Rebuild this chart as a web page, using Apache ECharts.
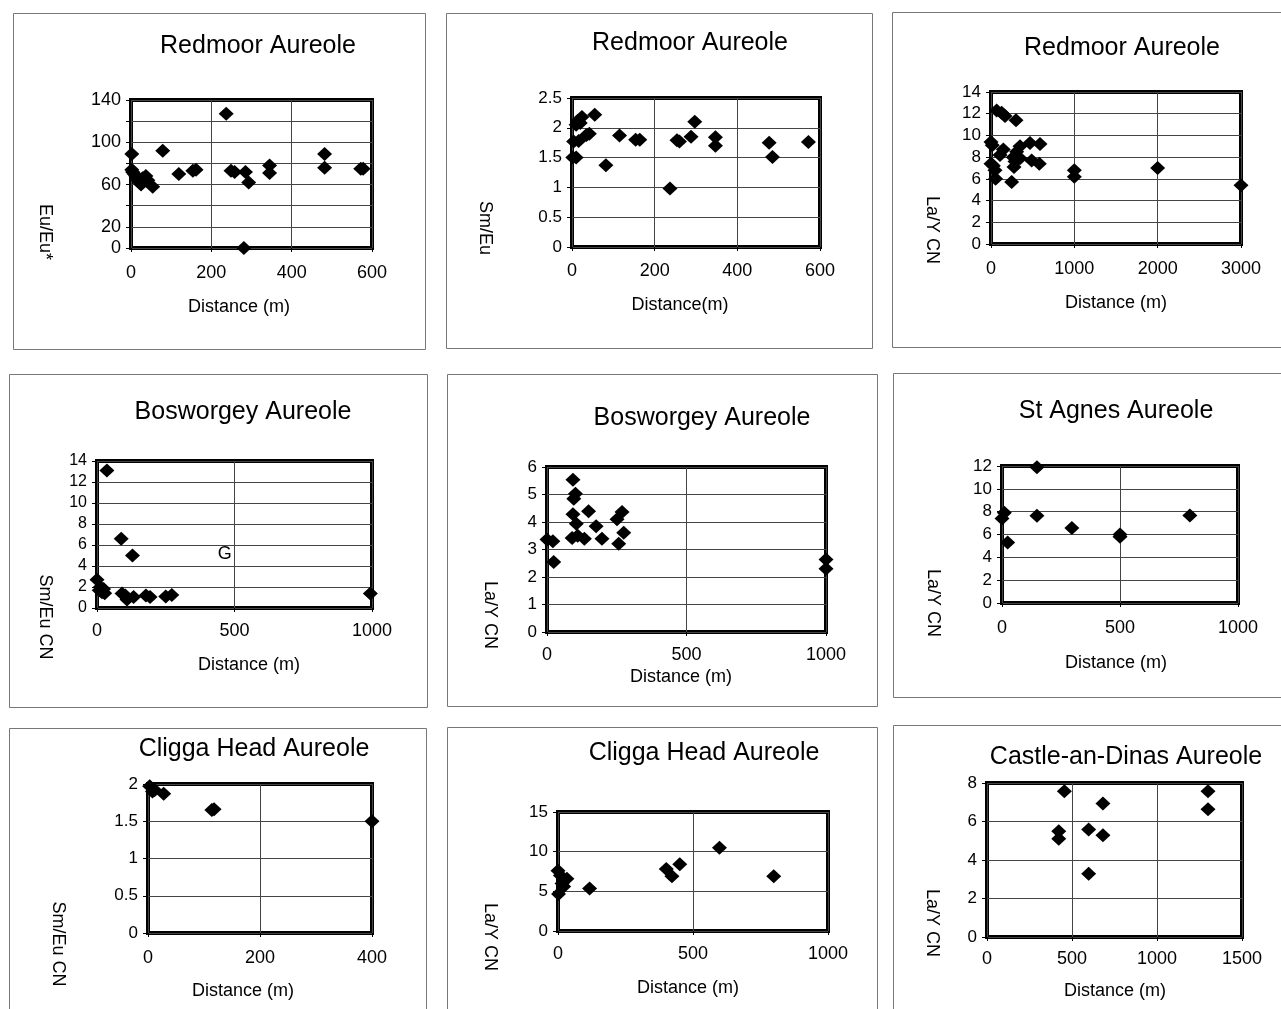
<!DOCTYPE html>
<html>
<head>
<meta charset="utf-8">
<script src="https://cdn.jsdelivr.net/npm/echarts@6/dist/echarts.min.js"></script>
<style>
html,body{margin:0;padding:0;background:#fff;}
#chart{width:1281px;height:1009px;}
</style>
</head>
<body>
<div id="chart"></div>
<script>
// ---- Data (distance m, ratio) ----
const redmoorEuEu = [[2,89],[2,74],[4,72],[8,70],[12,68],[17,64],[21,62],[25,60],[29,66],[37,68],[42,64],[54,58],[79,92],[119,70],[154,73],[162,74],[237,127],[249,73],[258,72],[285,72],[293,62],[281,0],[345,78],[345,71],[482,89],[482,76],[572,75],[578,75]];
const redmoorSmEu = [[2,1.5],[10,1.5],[4,1.77],[16,1.78],[10,2.05],[14,2.12],[24,2.18],[20,2.08],[55,2.22],[35,1.88],[42,1.9],[82,1.37],[115,1.87],[154,1.8],[164,1.8],[237,0.98],[254,1.79],[260,1.77],[288,1.85],[297,2.1],[347,1.84],[347,1.7],[477,1.75],[485,1.51],[572,1.76]];
const redmoorLaY = [[0,9.4],[15,9.1],[0,7.4],[28,7.2],[48,6.8],[55,6.0],[68,12.3],[128,12.1],[168,11.8],[108,8.2],[148,8.7],[248,5.7],[300,11.4],[268,8.0],[288,7.6],[276,7.1],[308,8.5],[348,9.0],[348,7.9],[468,9.3],[488,7.7],[588,9.2],[580,7.4],[1000,6.8],[1000,6.2],[2000,7.0],[3000,5.4]];
const bosworgeySmEu = [[0,2.7],[12,2.0],[18,1.5],[28,1.4],[8,1.7],[24,1.8],[36,13.1],[88,6.6],[129,5.0],[91,1.37],[103,1.2],[109,0.8],[133,1.05],[178,1.2],[193,1.05],[250,1.1],[272,1.24],[994,1.37]];
const bosworgeyLaY = [[0,3.36],[21,3.3],[24,2.55],[93,5.54],[102,5.03],[96,4.85],[93,4.28],[105,3.94],[90,3.42],[110,3.5],[134,3.39],[149,4.39],[176,3.85],[197,3.39],[251,4.1],[257,3.21],[269,4.36],[275,3.61],[1000,2.64],[1000,2.3]];
const bosworgeyNote = [[465,5.1,'G']];
const stAgnesLaY = [[0,7.4],[10,7.9],[24,5.3],[148,11.9],[148,7.64],[296,6.56],[500,5.8],[500,6.0],[796,7.67]];
const cliggaSmEu = [[3,1.97],[12,1.92],[8,1.9],[28,1.87],[114,1.65],[118,1.66],[400,1.5]];
const cliggaLaY = [[0,7.6],[9,7.0],[15,6.0],[33,6.6],[2,4.65],[21,5.6],[117,5.36],[401,7.8],[422,6.9],[451,8.4],[598,10.5],[799,6.9]];
const castleLaY = [[455,7.57],[422,5.5],[422,5.1],[598,5.58],[598,3.29],[682,6.93],[682,5.28],[1300,7.57],[1300,6.63]];

// ---- Text ----
const titles = ['Redmoor Aureole','Redmoor Aureole','Redmoor Aureole','Bosworgey Aureole','Bosworgey Aureole','St Agnes Aureole','Cligga Head Aureole','Cligga Head Aureole','Castle-an-Dinas Aureole'];
const yNames = ['Eu/Eu*','Sm/Eu','La/Y CN','Sm/Eu CN','La/Y CN','La/Y CN','Sm/Eu CN','La/Y CN','La/Y CN'];
const xNames = ['Distance (m)','Distance(m)','Distance (m)','Distance (m)','Distance (m)','Distance (m)','Distance (m)','Distance (m)','Distance (m)'];
const p1YTickLabels = [0,20,60,100,140];

// ---- Axis scales ----
const xMax = [600,600,3000,1000,1000,1000,400,1000,1500];
const xStep = [200,200,1000,500,500,500,200,500,500];
const yMax = [140,2.5,14,14,6,12,2,15,8];
const yStep = [20,0.5,2,2,1,2,0.5,5,2];
const seriesData = [redmoorEuEu,redmoorSmEu,redmoorLaY,bosworgeySmEu,bosworgeyLaY,stAgnesLaY,cliggaSmEu,cliggaLaY,castleLaY];

// ---- Layout (pixels) ----
const grids = [
  [131,100,241,148],[572,98,248,149],[991,92,250,152],
  [97,461,275,147],[547,467,279,165],[1002,466,236,137],
  [148,784,224,149],[558,812,270,119],[987,783,255,154]
];
const boxes = [
  [13,13,412,336],[446,13,426,335],[892,12,400,335],
  [9,374,418,333],[447,374,430,332],[893,373,400,324],
  [9,728,417,300],[447,727,430,300],[893,725,400,300]
];
const titlePos = [[258,46],[690,43],[1122,48],[243,412],[702,418],[1116,411],[254,749],[704,753],[1126,757]];
const titleSize = [25,25,25,25,25,25,25,25,25];
const yNamePos = [[45,232],[485,228],[932,230],[45,617],[490,615],[933,603],[58,944],[490,937],[932,923]];
const xNamePos = [[239,307],[680,305],[1116,303],[249,665],[681,677],[1116,663],[243,991],[688,988],[1115,991]];
const yLabelSize = [18,17,17,16,17,17,17,17,17];
const xLabelMargin = [16,15,16,14,14,16,16,14,13];

const FONT = '"Liberation Sans", Arial, Helvetica, sans-serif';

const option = {
  animation: false,
  backgroundColor: '#fff',
  grid: [], xAxis: [], yAxis: [], series: [], graphic: []
};

for (let i = 0; i < 9; i++) {
  const g = grids[i];
  option.grid.push({left:g[0], top:g[1], width:g[2], height:g[3], show:true, borderColor:'#000', borderWidth:4, backgroundColor:'transparent', containLabel:false});
  option.xAxis.push({
    gridIndex:i, type:'value', min:0, max:xMax[i], interval:xStep[i],
    axisLine:{show:false},
    axisTick:{show:true, length:4, lineStyle:{color:'#000', width:1}},
    splitLine:{show:true, lineStyle:{color:'#444', width:1}},
    axisLabel:{fontSize:18, color:'#000', margin:xLabelMargin[i], fontFamily:FONT, formatter: v => String(v)}
  });
  const yl = {fontSize:yLabelSize[i], color:'#000', margin:10, fontFamily:FONT, formatter: v => String(v)};
  if (i === 0) yl.formatter = v => p1YTickLabels.indexOf(v) >= 0 ? String(v) : '';
  option.yAxis.push({
    gridIndex:i, type:'value', min:0, max:yMax[i], interval:yStep[i],
    axisLine:{show:false},
    axisTick:{show:true, length:5, lineStyle:{color:'#000', width:1}},
    splitLine:{show:true, lineStyle:{color:'#444', width:1}},
    axisLabel:yl
  });
  option.series.push({
    type:'scatter', xAxisIndex:i, yAxisIndex:i, data:seriesData[i],
    symbol:'diamond', symbolSize:[15,14], itemStyle:{color:'#000', opacity:1}, silent:true, z:5
  });
  const b = boxes[i];
  option.graphic.push({type:'rect', shape:{x:b[0]+0.5, y:b[1]+0.5, width:b[2], height:b[3]}, style:{fill:'none', stroke:'#777', lineWidth:1}, silent:true});
  option.graphic.push({type:'text', x:titlePos[i][0], y:titlePos[i][1], style:{text:titles[i], font:titleSize[i]+'px '+FONT, fill:'#000', align:'center', verticalAlign:'middle'}, silent:true});
  option.graphic.push({type:'text', x:yNamePos[i][0], y:yNamePos[i][1], rotation:-Math.PI/2, style:{text:yNames[i], font:'18px '+FONT, fill:'#000', align:'center', verticalAlign:'middle'}, silent:true});
  option.graphic.push({type:'text', x:xNamePos[i][0], y:xNamePos[i][1], style:{text:xNames[i], font:'18px '+FONT, fill:'#000', align:'center', verticalAlign:'middle'}, silent:true});
}

// "G" annotation in the Bosworgey Sm/Eu panel
option.series.push({
  type:'scatter', xAxisIndex:3, yAxisIndex:3, data:bosworgeyNote,
  symbolSize:0, silent:true, z:6, itemStyle:{opacity:1},
  label:{show:true, position:'inside', formatter:p => p.data[2], fontSize:18, color:'#000', opacity:1, fontFamily:FONT}
});

const chart = echarts.init(document.getElementById('chart'), null, {renderer:'canvas'});
chart.setOption(option);
</script>
</body>
</html>
